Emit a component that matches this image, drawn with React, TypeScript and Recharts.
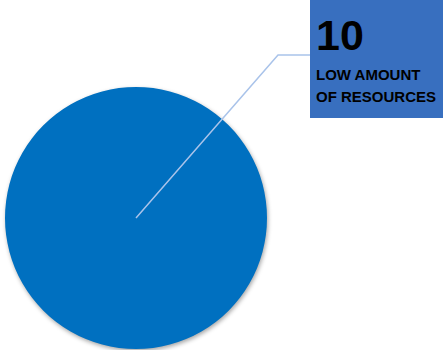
import React from "react";
import { PieChart, Pie, Cell } from "recharts";

const categories = ["LOW AMOUNT OF RESOURCES"];
const values = [10];
const labelLines = ["LOW AMOUNT", "OF RESOURCES"];

const data = categories.map((name, i) => ({ name, value: values[i] }));

const PIE_COLOR = "#0070c0";
const BOX_COLOR = "#386fbf";
const LINE_COLOR = "#a9c3ea";

const renderLabelLine = (props: any) => {
  const { cx, cy } = props;
  const elbowX = cx + 142;
  const elbowY = cy - 163;
  const boxX = cx + 174;
  return (
    <polyline
      points={`${cx},${cy} ${elbowX},${elbowY} ${boxX},${elbowY}`}
      fill="none"
      stroke={LINE_COLOR}
      strokeWidth={1.5}
    />
  );
};

const renderLabel = (props: any) => {
  const { cx, cy, value } = props;
  const boxX = cx + 174;
  const boxY = cy - 218;
  return (
    <g>
      <rect x={boxX} y={boxY} width={133} height={118} fill={BOX_COLOR} />
      <text
        x={boxX + 6}
        y={boxY + 50}
        fontFamily="'Liberation Sans', Arial, sans-serif"
        fontWeight="bold"
        fontSize={43}
        fill="#000"
      >
        {value}
      </text>
      {labelLines.map((t, i) => (
        <text
          key={t}
          x={boxX + 6}
          y={boxY + 80 + i * 22}
          fontFamily="'Liberation Sans', Arial, sans-serif"
          fontWeight="bold"
          fontSize={15}
          fill="#000"
        >
          {t}
        </text>
      ))}
    </g>
  );
};

export default function App() {
  return (
    <div style={{ position: "absolute", left: 0, top: 0, width: 445, height: 350, background: "#fff" }}>
      <PieChart width={445} height={350} margin={{ top: 0, right: 0, bottom: 0, left: 0 }}>
        <Pie
          data={data}
          dataKey="value"
          nameKey="name"
          cx={136}
          cy={218}
          outerRadius={131}
          startAngle={90}
          endAngle={-270}
          stroke="none"
          isAnimationActive={false}
          label={renderLabel}
          labelLine={renderLabelLine}
        >
          {data.map((d) => (
            <Cell
              key={d.name}
              fill={PIE_COLOR}
              style={{ filter: "drop-shadow(1px 2px 2px rgba(0,0,0,0.35))" }}
            />
          ))}
        </Pie>
      </PieChart>
    </div>
  );
}
